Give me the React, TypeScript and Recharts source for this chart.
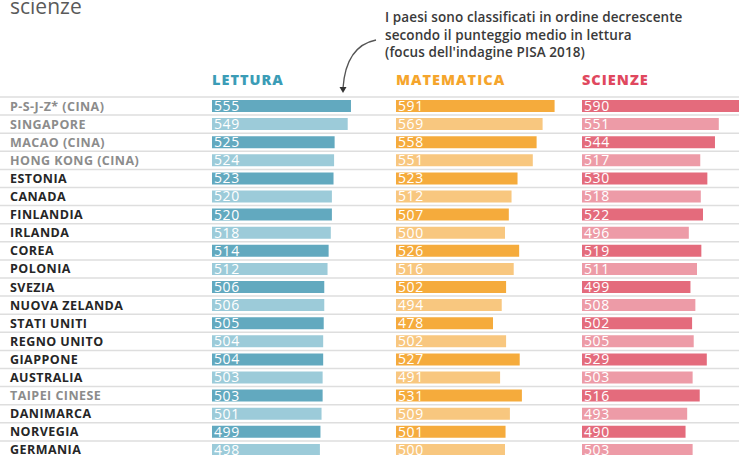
import React from "react";
import { Bar, BarChart, CartesianGrid, Cell, LabelList, XAxis, YAxis } from "recharts";

const countries = [
  "P-S-J-Z* (CINA)", "SINGAPORE", "MACAO (CINA)", "HONG KONG (CINA)", "ESTONIA",
  "CANADA", "FINLANDIA", "IRLANDA", "COREA", "POLONIA",
  "SVEZIA", "NUOVA ZELANDA", "STATI UNITI", "REGNO UNITO", "GIAPPONE",
  "AUSTRALIA", "TAIPEI CINESE", "DANIMARCA", "NORVEGIA", "GERMANIA",
];
const lettura = [555, 549, 525, 524, 523, 520, 520, 518, 514, 512, 506, 506, 505, 504, 504, 503, 503, 501, 499, 498];
const matematica = [591, 569, 558, 551, 523, 512, 507, 500, 526, 516, 502, 494, 478, 502, 527, 491, 531, 509, 501, 500];
const scienze = [590, 551, 544, 517, 530, 518, 522, 496, 519, 511, 499, 508, 502, 505, 529, 503, 516, 493, 490, 503];
// paesi non OCSE, scritti in grigio
const nonOcse = ["P-S-J-Z* (CINA)", "SINGAPORE", "MACAO (CINA)", "HONG KONG (CINA)", "TAIPEI CINESE"];

const data = countries.map((name, i) => ({
  name,
  lettura: lettura[i],
  matematica: matematica[i],
  scienze: scienze[i],
}));

const FONT = "'Open Sans', sans-serif";
const CH = 470;
const MARGIN = { top: 97, right: 0, bottom: 11, left: 0 };
const PX_PER_POINT = 0.545;

const CountryTick = (props: any) => {
  const { y, payload } = props;
  const grey = nonOcse.includes(payload.value);
  return (
    <text x={10} y={y} dy={4.5} textAnchor="start" fontSize={12.5} fontWeight={700}
      fill={grey ? "#8c8c8c" : "#262626"} fontFamily={FONT} letterSpacing={0.45}>
      {payload.value}
    </text>
  );
};

type ColProps = {
  left: number;
  width: number;
  axisWidth: number;
  dataKey: string;
  dark: string;
  light: string;
};

const Column = ({ left, width, axisWidth, dataKey, dark, light }: ColProps) => {
  const plotW = width - axisWidth;
  const max = 300 + plotW / PX_PER_POINT;
  return (
    <div style={{ position: "absolute", left, top: 0 }}>
      <BarChart width={width} height={CH} data={data} layout="vertical" margin={MARGIN}>
        <XAxis type="number" domain={[300, max]} allowDataOverflow hide />
        <YAxis type="category" dataKey="name" width={axisWidth} hide={axisWidth === 0}
          axisLine={false} tickLine={false} tick={<CountryTick />} interval={0} />
        <Bar dataKey={dataKey} barSize={12} isAnimationActive={false}>
          {data.map((_, i) => (
            <Cell key={i} fill={i % 2 === 0 ? dark : light} />
          ))}
          <LabelList dataKey={dataKey} position="insideLeft" offset={2} fill="#fff"
            fontSize={14} fontFamily={FONT} fontWeight={500} letterSpacing={0.6} />
        </Bar>
      </BarChart>
    </div>
  );
};

const header = (color: string): React.CSSProperties => ({
  position: "absolute",
  top: 70,
  fontSize: 14.5,
  fontWeight: 800,
  color,
  letterSpacing: 1,
});

export default function App() {
  const n = data.length;
  return (
    <div style={{ position: "relative", width: 739, height: 455, overflow: "hidden", background: "#fff", fontFamily: FONT }}>
      <style>{"body{margin:0}"}</style>

      <div style={{ position: "absolute", left: 10, top: -8, fontSize: 21, color: "#5a5a5a" }}>scienze</div>

      <div style={{ position: "absolute", left: 385, top: 9, fontSize: 13.5, lineHeight: "17.5px", color: "#3a3a3a", fontWeight: 600, letterSpacing: 0.1 }}>
        I paesi sono classificati in ordine decrescente<br />
        secondo il punteggio medio in lettura<br />
        (focus dell'indagine PISA 2018)
      </div>
      <svg style={{ position: "absolute", left: 0, top: 0 }} width={739} height={100}>
        <path d="M376,40 Q346,46 343,88" fill="none" stroke="#555" strokeWidth={1.3} />
        <path d="M339.5,87 L346.5,87 L343,93 Z" fill="#333" />
      </svg>

      <div style={header("#3b9cb6")}><span style={{ position: "absolute", left: 212 }}>LETTURA</span></div>
      <div style={header("#f5a52c")}><span style={{ position: "absolute", left: 396 }}>MATEMATICA</span></div>
      <div style={header("#e0485e")}><span style={{ position: "absolute", left: 582 }}>SCIENZE</span></div>

      {/* linee di separazione tra le righe, su tutta la larghezza */}
      <div style={{ position: "absolute", left: 0, top: 0 }}>
        <BarChart width={739} height={CH} data={data} layout="vertical" margin={MARGIN}>
          <XAxis type="number" domain={[300, 600]} hide />
          <YAxis type="category" dataKey="name" hide />
          <CartesianGrid vertical={false} stroke="#dedede" strokeWidth={1.5}
            horizontalCoordinatesGenerator={({ offset }: any) =>
              Array.from({ length: n + 1 }, (_, i) => offset.top + (i * offset.height) / n)
            } />
        </BarChart>
      </div>

      <Column left={0} width={380} axisWidth={212} dataKey="lettura" dark="#62a9bf" light="#9ccbd9" />
      <Column left={396} width={180} axisWidth={0} dataKey="matematica" dark="#f5ab3c" light="#f8c77f" />
      <Column left={582} width={160} axisWidth={0} dataKey="scienze" dark="#e46b7c" light="#ed9ba7" />
    </div>
  );
}
